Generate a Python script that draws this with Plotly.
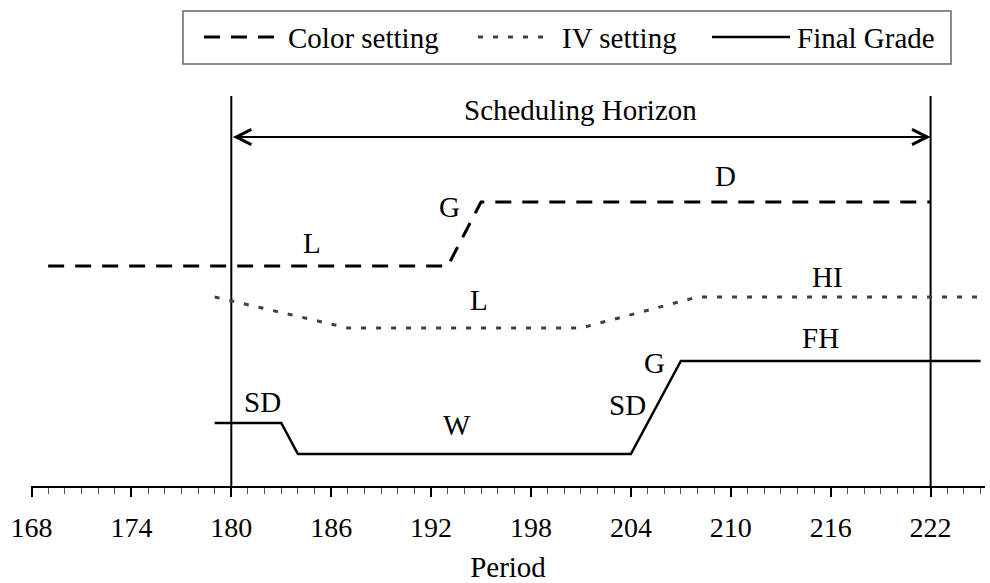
import plotly.graph_objects as go

# ---------------- data ----------------
tick_vals = [168, 174, 180, 186, 192, 198, 204, 210, 216, 222]
tick_text = ["168", "174", "180", "186", "192", "198", "204", "210", "216", "222"]

horizon = [180, 222]

color_x = [169, 193, 195, 222]
color_y = [220, 220, 284, 284]

iv_x = [179, 187, 201, 208, 225]
iv_y = [189, 158, 158, 189, 189]

fg_x = [179, 183, 184, 204, 207, 225]
fg_y = [63, 63, 32, 32, 125, 125]

series_names = ["Color setting", "IV setting", "Final Grade"]

state_labels = ["L", "G", "D", "L", "HI", "SD", "W", "SD", "G", "FH"]
state_label_x = [184.85, 193.1, 209.7, 194.9, 215.8, 181.9, 193.55, 203.8, 205.4, 215.4]
state_label_y = [243, 279, 310, 186, 209, 84, 61, 81, 123, 148]

horizon_label = "Scheduling Horizon"
x_title = "Period"

# ---------------- layout constants ----------------
W, H = 990, 583
ML, MR, MT, MB = 31, 5, 96, 97
PW = W - ML - MR
PH = H - MT - MB
PX_PER_UNIT = 16.65
x0 = 168 - 0.5 / PX_PER_UNIT
x1 = x0 + PW / PX_PER_UNIT
FONT = "Times New Roman, Liberation Serif, serif"
FS = 29

def px2paper_x(px):
    return (px - ML) / PW

def py2paper_y(py):
    return (H - MB - py) / PH

styles = [
    dict(color="black", width=3, dash="16px,11px"),
    dict(color="#404040", width=3, dash="5px,10px"),
    dict(color="black", width=2.5, dash="solid"),
]

fig = go.Figure()

# horizon vertical lines
for hx in horizon:
    fig.add_trace(go.Scatter(x=[hx, hx], y=[0, PH], mode="lines",
                             line=dict(color="black", width=2),
                             showlegend=False, hoverinfo="skip"))

for xs, ys, name, st in zip([color_x, iv_x, fg_x], [color_y, iv_y, fg_y], series_names, styles):
    fig.add_trace(go.Scatter(x=xs, y=ys, mode="lines", name=name, line=st,
                             showlegend=False))

annotations = []
# double arrow for scheduling horizon
annotations.append(dict(x=horizon[1], y=349, ax=horizon[0], ay=349, xref="x", yref="y",
                        axref="x", ayref="y", text="", showarrow=True,
                        arrowhead=5, startarrowhead=5, arrowside="end+start",
                        arrowwidth=2, arrowsize=1.5, startarrowsize=1.5,
                        arrowcolor="black", standoff=0, startstandoff=0))
annotations.append(dict(x=(horizon[0] + horizon[1]) / 2, y=376, xref="x", yref="y",
                        text=horizon_label, showarrow=False,
                        font=dict(family=FONT, size=FS, color="black")))

for t, lx, ly in zip(state_labels, state_label_x, state_label_y):
    annotations.append(dict(x=lx, y=ly, xref="x", yref="y", text=t, showarrow=False,
                            font=dict(family=FONT, size=FS, color="black")))

# manual legend
shapes = []
shapes.append(dict(type="rect", xref="paper", yref="paper",
                   x0=px2paper_x(183), x1=px2paper_x(951),
                   y0=py2paper_y(64), y1=py2paper_y(11),
                   line=dict(color="#666666", width=1.5), fillcolor="white"))
leg_lines = [(204, 274), (478, 545), (712, 790)]
leg_text_x = [286, 560, 795]
leg_y = 37
for (a, b), st, name, tx in zip(leg_lines, styles, series_names, leg_text_x):
    shapes.append(dict(type="line", xref="paper", yref="paper",
                       x0=px2paper_x(a), x1=px2paper_x(b),
                       y0=py2paper_y(leg_y), y1=py2paper_y(leg_y), line=st))
    annotations.append(dict(x=px2paper_x(tx), y=py2paper_y(leg_y + 1), xref="paper", yref="paper",
                            xanchor="left", yanchor="middle", text=name, showarrow=False,
                            font=dict(family=FONT, size=FS, color="black")))

fig.update_layout(
    width=W, height=H,
    margin=dict(l=ML, r=MR, t=MT, b=MB, pad=0, autoexpand=False),
    paper_bgcolor="white", plot_bgcolor="white",
    showlegend=False,
    annotations=annotations,
    shapes=shapes,
    font=dict(family=FONT, size=FS, color="black"),
    xaxis=dict(range=[x0, x1], showgrid=False, zeroline=False, automargin=False,
               showline=True, linecolor="black", linewidth=1.5,
               ticks="outside", ticklen=9, tickwidth=1.5, tickcolor="black",
               tickvals=tick_vals, ticktext=tick_text, ticklabelstandoff=7,
               tickfont=dict(family=FONT, size=28, color="black"),
               minor=dict(dtick=1, tick0=168, ticks="outside", ticklen=6, tickwidth=1, tickcolor="#555555"),
               title=dict(text=x_title, font=dict(family=FONT, size=FS, color="black"), standoff=25)),
    yaxis=dict(range=[0, PH], visible=False, showgrid=False, zeroline=False, automargin=False),
)

fig.write_html("out.html", config={"displayModeBar": False},
               post_script="document.body.style.margin='0';")
